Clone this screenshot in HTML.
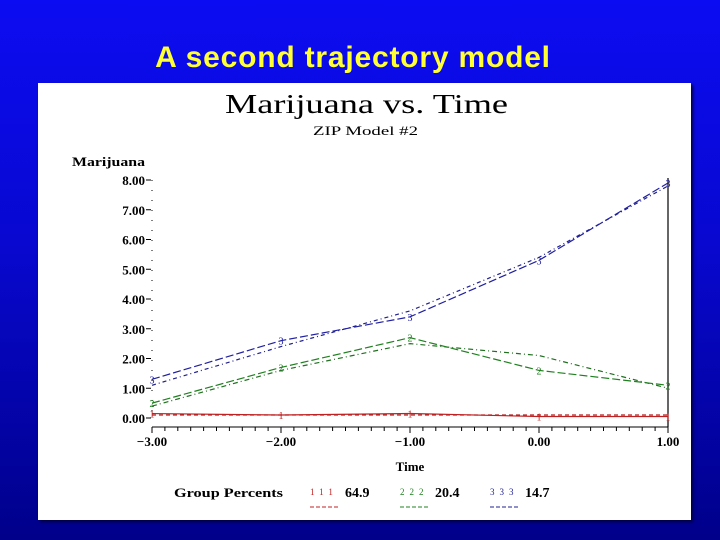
<!DOCTYPE html>
<html><head><meta charset="utf-8"><style>
body{margin:0;width:720px;height:540px;overflow:hidden;background:linear-gradient(#0c0cf2 0%,#0808d0 45%,#00008a 100%);font-family:"Liberation Sans",sans-serif}
#title{position:absolute;left:0;width:706px;top:41px;text-align:center;color:#ffff33;font-weight:bold;font-size:30px;letter-spacing:0.8px}
#panel{position:absolute;left:38px;top:83px;width:653px;height:437px;background:#fff;box-shadow:2px 2px 3px #000040}
svg text{font-family:"Liberation Serif",serif}
</style></head><body>
<div id="title">A second trajectory model</div>
<div id="panel"></div>
<svg id="chart" width="720" height="540" style="position:absolute;left:0;top:0"></svg>
<script>
const xTicks=[-3,-2,-1,0,1];
const xTickLabels=["\u22123.00","\u22122.00","\u22121.00","0.00","1.00"];
const yTicks=[0,1,2,3,4,5,6,7,8];
const yTickLabels=["0.00","1.00","2.00","3.00","4.00","5.00","6.00","7.00","8.00"];
const times=[-3,-2,-1,0,1];
const blueObs=[1.3,2.6,3.4,5.3,7.9];
const bluePred=[1.1,2.4,3.6,5.4,7.8];
const greenObs=[0.5,1.7,2.7,1.6,1.1];
const greenPred=[0.4,1.6,2.5,2.1,1.0];
const redObs=[0.15,0.1,0.15,0.05,0.05];
const redPred=[0.1,0.1,0.1,0.1,0.1];
const groupPercents=["64.9","20.4","14.7"];
const NS="http://www.w3.org/2000/svg";
const svg=document.getElementById('chart');
const X=v=>152+(v+3)*129;
const Y=v=>418-v*29.75;
function mk(t,a,txt){const e=document.createElementNS(NS,t);for(const k in a)e.setAttribute(k,a[k]);if(txt!==undefined)e.textContent=txt;svg.appendChild(e);return e;}
let e;
e=mk('text',{x:225,y:113,'font-size':27,textLength:283,lengthAdjust:'spacingAndGlyphs'},'Marijuana  vs.  Time');

e=mk('text',{x:313,y:135,'font-size':13,textLength:105,lengthAdjust:'spacingAndGlyphs'},'ZIP  Model  #2');

e=mk('text',{x:72,y:166,'font-size':13,'font-weight':'bold',textLength:73,lengthAdjust:'spacingAndGlyphs'},'Marijuana');

e=mk('text',{x:410,y:471,'text-anchor':'middle','font-size':13,'font-weight':'bold'},'Time');

e=mk('line',{x1:152,y1:Y(8),x2:152,y2:418,stroke:'#000','stroke-width':1,'stroke-dasharray':'1 9'});

e=mk('line',{x1:152,y1:427,x2:668,y2:427,stroke:'#000','stroke-width':1});

e=mk('line',{x1:668,y1:178,x2:668,y2:427,stroke:'#000','stroke-width':1.2});

yTicks.forEach((v,i)=>{
 const t=mk('text',{x:145,y:Y(v)+5,'text-anchor':'end','font-size':13,'font-weight':'bold'},yTickLabels[i]);
 
 const l=mk('line',{x1:146,y1:Y(v),x2:151,y2:Y(v),stroke:'#000'});
 
});
for(let k=0;k<=40;k++){const xv=-3+k*0.1;const l=mk('line',{x1:X(xv),y1:427,x2:X(xv),y2:k%10==0?433:431,stroke:'#000'});
 }
xTicks.forEach((v,i)=>{const t=mk('text',{x:X(v),y:446,'text-anchor':'middle','font-size':13,'font-weight':'bold'},xTickLabels[i]);
 });
function series(vals,color,dash,name,sym){
 const p=mk('polyline',{points:times.map((t,i)=>X(t)+','+Y(vals[i])).join(' '),fill:'none',stroke:color,'stroke-width':1.2,'stroke-dasharray':dash});
 
 if(sym){times.forEach((t,i)=>{const s=mk('text',{x:X(t),y:Y(vals[i])+4,'text-anchor':'middle','font-size':10,fill:color},sym);
  });}
}
series(redPred,'#b02020','4 3','group1-predicted');
series(redObs,'#c02020','','group1-observed','1');
series(greenPred,'#207020','5 3 1 3','group2-predicted');
series(greenObs,'#208020','8 3','group2-observed','2');
series(bluePred,'#202090','4 3 1 3','group3-predicted');
series(blueObs,'#2020a0','8 3','group3-observed','3');
e=mk('text',{x:174,y:497,'font-size':13,'font-weight':'bold',textLength:109,lengthAdjust:'spacingAndGlyphs'},'Group  Percents');

const legCols=['#c02020','#208020','#202090'];const legSym=['1','2','3'];const legX=[310,400,490];
groupPercents.forEach((g,i)=>{
 const s=mk('text',{x:legX[i],y:495,'font-size':9,fill:legCols[i],'letter-spacing':'5'},legSym[i]+legSym[i]+legSym[i]);
 
 const t=mk('text',{x:legX[i]+35,y:497,'font-size':14,'font-weight':'bold'},g);
 
 const l=mk('line',{x1:legX[i],y1:507,x2:legX[i]+30,y2:507,stroke:legCols[i],'stroke-dasharray':'4 2'});
 
});
</script>
</body></html>
